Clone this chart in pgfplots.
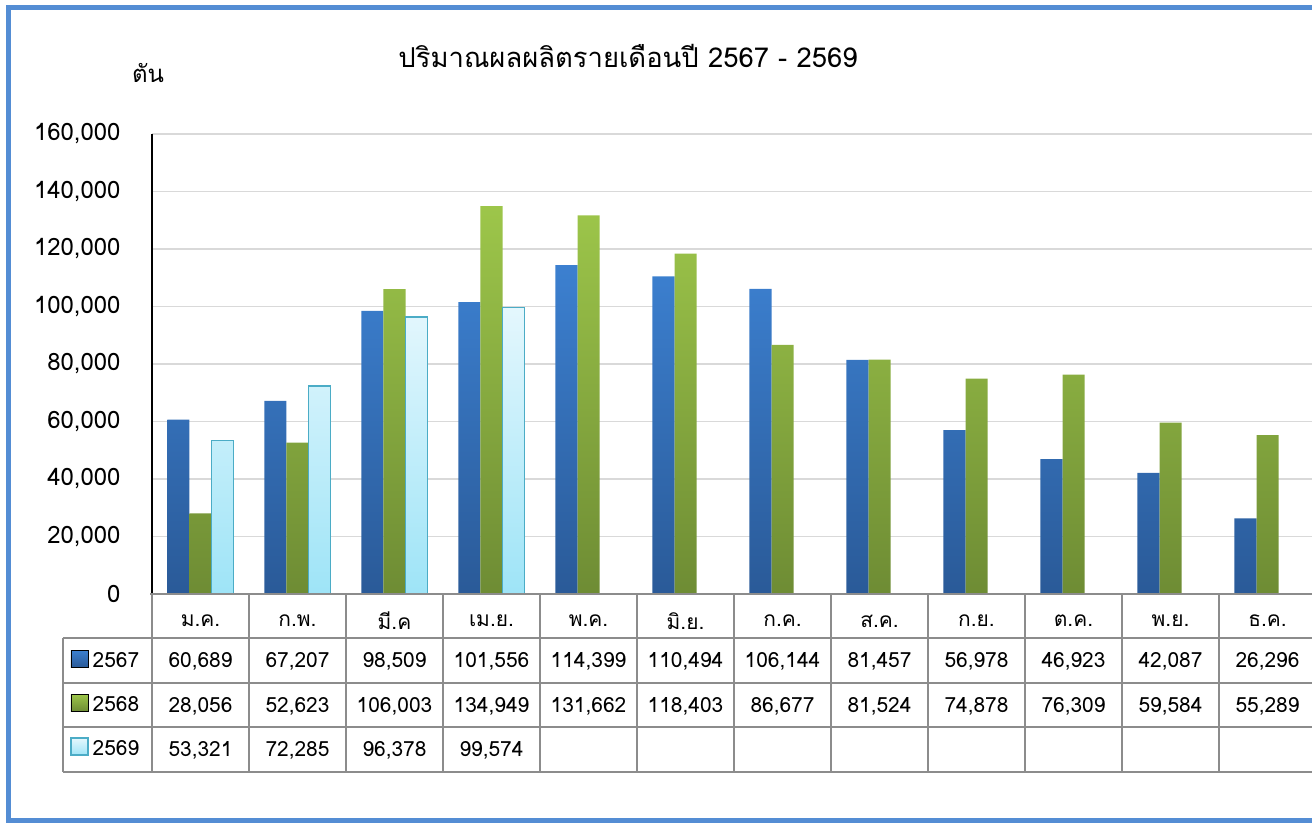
\documentclass[border=0pt]{standalone}
\usepackage{fontspec}
\usepackage{pgfplots}
\usepackage{pgfplotstable}
\pgfplotsset{compat=1.18}
\setmainfont[Script=Thai]{Loma}
\definecolor{frameblue}{RGB}{84,141,212}
\definecolor{bluetop}{RGB}{60,128,208}
\definecolor{bluebot}{RGB}{42,90,152}
\definecolor{greentop}{RGB}{157,198,74}
\definecolor{greenbot}{RGB}{110,140,52}
\definecolor{cyantop}{RGB}{228,247,253}
\definecolor{cyanbot}{RGB}{158,228,247}
\definecolor{cyanedge}{RGB}{75,172,198}
\definecolor{tablegray}{RGB}{140,140,140}
\definecolor{gridgray}{RGB}{217,217,217}

\pgfplotstableread{
x v67 v68
0 60689 28056
1 67207 52623
2 98509 106003
3 101556 134949
4 114399 131662
5 110494 118403
6 106144 86677
7 81457 81524
8 56978 74878
9 46923 76309
10 42087 59584
11 26296 55289
}\dataA
\pgfplotstableread{
x v69
0 53321
1 72285
2 96378
3 99574
}\dataB

\begin{document}
\begin{tikzpicture}[x=1bp,y=1bp]
\begin{axis}[
  scale only axis, width=1164bp, height=460bp,
  xmin=-0.5, xmax=11.5, ymin=0, ymax=160000,
  clip=false,
  axis x line*=bottom, axis y line*=left,
  x axis line style={draw=none},
  y axis line style={black, line width=1.2bp, -},
  major tick length=0pt,
  ytick={0,20000,...,160000},
  scaled y ticks=false,
  /pgf/number format/fixed,
  /pgf/number format/1000 sep={,},
  /pgf/number format/assume math mode=true,
  yticklabel style={font=\fontsize{24}{28}\selectfont, xshift=-28bp},
  ymajorgrids, grid style={gridgray, line width=1.5bp},
  xtick={0,...,11},
  xticklabels={ม.ค., ก.พ., มี.ค, เม.ย., พ.ค., มิ.ย., ก.ค., ส.ค., ก.ย., ต.ค., พ.ย., ธ.ค.},
  xticklabel style={font=\fontsize{21}{25}\selectfont, anchor=center, yshift=-27bp},
  legend style={at={(rel axis cs:-0.0705,-0.0957)}, anchor=north west, draw=none, fill=none,
    inner sep=0pt, row sep=0pt, font=\fontsize{21}{25}\selectfont,
    nodes={inner sep=0pt, text height=29.5bp, text depth=14.5bp},
    /tikz/every odd column/.append style={column sep=4bp}},
  legend image code/.code={\draw[#1] (0bp,-7bp) rectangle (17bp,10bp);},
  every node near coord/.append style={anchor=center, font=\fontsize{21}{25}\selectfont},
]
\addplot[ybar, bar width=0.227, bar shift=-0.227, draw=none, top color=bluetop, bottom color=bluebot] table[x=x,y=v67]{\dataA};
\addplot[ybar, bar width=0.227, bar shift=0, draw=none, top color=greentop, bottom color=greenbot] table[x=x,y=v68]{\dataA};
\addplot[ybar, bar width=0.227, bar shift=0.227, draw=cyanedge, line width=1.5bp, top color=cyantop, bottom color=cyanbot] table[x=x,y=v69]{\dataB};
\legend{2567,2568,2569}
\addplot[forget plot, draw=none, mark=none, nodes near coords, point meta=explicit] table[x=x, y expr=-23600, meta=v67]{\dataA};
\addplot[forget plot, draw=none, mark=none, nodes near coords, point meta=explicit] table[x=x, y expr=-39000, meta=v68]{\dataA};
\addplot[forget plot, draw=none, mark=none, nodes near coords, point meta=explicit] table[x=x, y expr=-54500, meta=v69]{\dataB};
\coordinate (O) at (rel axis cs:0,0);
\end{axis}
\begin{scope}[shift={(O)}, xshift=-152bp, yshift=-229bp]
\pgfresetboundingbox
\useasboundingbox (0,0) rectangle (1312,823);
\draw[frameblue, line width=5bp] (8.5,2.5) rectangle (1345,815);
\begin{scope}[tablegray, line width=2bp]
\draw (150,229) -- (1330,229);
\foreach \yy in {185,140,96,51} {\draw (63,\yy) -- (1330,\yy);}
\draw (63,185) -- (63,51);
\draw (152,228) -- (152,51);
\foreach \k in {1,...,12} {\draw ({152+97*\k},229) -- ({152+97*\k},51);}
\end{scope}
\node[font=\fontsize{24}{28}\selectfont] at (148,750) {ตัน};
\node[font=\fontsize{27.5}{32}\selectfont] at (628,767) {ปริมาณผลผลิตรายเดือนปี 2567 - 2569};
\end{scope}
\end{tikzpicture}
\end{document}
